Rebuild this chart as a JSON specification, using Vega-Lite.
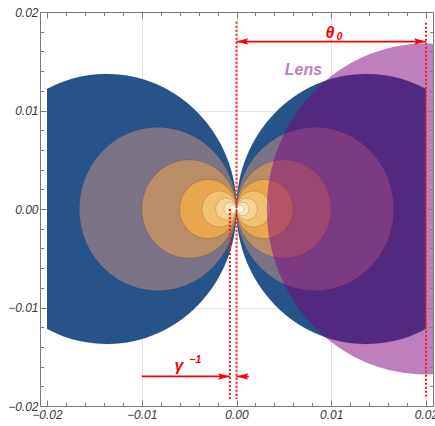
{
  "$schema": "https://vega.github.io/schema/vega-lite/v6.json",
  "width": 393,
  "height": 394,
  "autosize": {"type": "none"},
  "padding": {"left": 40, "top": 12, "right": 2, "bottom": 20},
  "background": "white",
  "config": {"view": {"stroke": null}},
  "datasets": {
    "cones": [
      {"side": "L", "level": 1, "x": -0.0137, "r": 0.0137},
      {"side": "R", "level": 1, "x": 0.0137, "r": 0.0137},
      {"side": "L", "level": 2, "x": -0.0083, "r": 0.0083},
      {"side": "R", "level": 2, "x": 0.0083, "r": 0.0083},
      {"side": "L", "level": 3, "x": -0.005, "r": 0.005},
      {"side": "R", "level": 3, "x": 0.005, "r": 0.005},
      {"side": "L", "level": 4, "x": -0.003, "r": 0.003},
      {"side": "R", "level": 4, "x": 0.003, "r": 0.003},
      {"side": "L", "level": 5, "x": -0.00182, "r": 0.00182},
      {"side": "R", "level": 5, "x": 0.00182, "r": 0.00182},
      {"side": "L", "level": 6, "x": -0.0011, "r": 0.0011},
      {"side": "R", "level": 6, "x": 0.0011, "r": 0.0011},
      {"side": "L", "level": 7, "x": -0.00066, "r": 0.00066},
      {"side": "R", "level": 7, "x": 0.00066, "r": 0.00066},
      {"side": "L", "level": 8, "x": -0.0004, "r": 0.0004},
      {"side": "R", "level": 8, "x": 0.0004, "r": 0.0004}
    ],
    "covers": [
      {"x": -0.0209, "x2": -0.02},
      {"x": 0.02, "x2": 0.0209}
    ],
    "lens": [{"x": 0.02, "y": 0, "r": 0.0168}],
    "dotted": [
      {"x": 0, "y": 0.019, "y2": -0.0193},
      {"x": 0.02, "y": 0.0189, "y2": -0.0193},
      {"x": -0.0007, "y": 0, "y2": -0.0193}
    ],
    "arrows": [
      {"x": 0, "x2": 0.02, "y": 0.017},
      {"x": -0.01, "x2": -0.0007, "y": -0.017},
      {"x": 0, "x2": 0.0013, "y": -0.017}
    ],
    "heads": [
      {"x": 0, "y": 0.017, "dir": "left"},
      {"x": 0.02, "y": 0.017, "dir": "right"},
      {"x": -0.0007, "y": -0.017, "dir": "right"},
      {"x": 0, "y": -0.017, "dir": "left"}
    ],
    "labels": [
      {"text": "θ", "x": 0.00987, "y": 0.0179, "kind": "red"},
      {"text": "γ", "x": -0.00607, "y": -0.0159, "kind": "red"},
      {"text": "Lens", "x": 0.00707, "y": 0.0141, "kind": "lens"}
    ],
    "scripts": [
      {"text": "0", "x": 0.01085, "y": 0.01745},
      {"text": "−1", "x": -0.00435, "y": -0.01535}
    ]
  },
  "layer": [
    {
      "data": {"name": "cones"},
      "mark": {"type": "point", "filled": true, "opacity": 1, "clip": true, "stroke": "#000000", "strokeOpacity": 0.14, "strokeWidth": 1},
      "encoding": {
        "x": {"field": "x", "type": "quantitative", "scale": {"domain": [-0.02074, 0.02074], "nice": false, "zero": false},
          "axis": {"orient": "bottom", "values": [-0.01, 0, 0.01], "grid": true, "gridColor": "#e4e4e4", "gridWidth": 1, "domain": false, "ticks": false, "labels": false, "title": null, "zindex": 0}},
        "y": {"datum": 0, "type": "quantitative", "scale": {"domain": [-0.02, 0.02], "nice": false, "zero": false},
          "axis": {"orient": "left", "values": [-0.01, 0, 0.01], "grid": true, "gridColor": "#e4e4e4", "gridWidth": 1, "domain": false, "ticks": false, "labels": false, "title": null, "zindex": 0}},
        "size": {"field": "r", "type": "quantitative", "scale": {"type": "pow", "exponent": 2, "domain": [0, 0.025], "range": [0, 224439]}, "legend": null},
        "shape": {"value": "M -1 0 A 1 1.0396 0 1 0 1 0 A 1 1.0396 0 1 0 -1 0 Z"},
        "fill": {"field": "level", "type": "ordinal", "scale": {"domain": [1, 2, 3, 4, 5, 6, 7, 8], "range": ["#26548a", "#7b7487", "#b98d66", "#e9a64e", "#f0c173", "#f5d493", "#f9e6b8", "#fcf3dc"]}, "legend": null},
        "order": {"field": "level", "type": "quantitative"}
      }
    },
    {
      "data": {"name": "covers"},
      "mark": {"type": "rect", "fill": "white"},
      "encoding": {
        "x": {"field": "x", "type": "quantitative", "scale": {"domain": [-0.02074, 0.02074], "nice": false, "zero": false}, "axis": null},
        "x2": {"field": "x2"},
        "y": {"datum": -0.0128, "type": "quantitative", "scale": {"domain": [-0.02, 0.02], "nice": false, "zero": false}, "axis": null},
        "y2": {"datum": 0.0128}
      }
    },
    {
      "data": {"name": "lens"},
      "mark": {"type": "point", "filled": true, "opacity": 0.5, "clip": true, "fill": "#7e007a", "strokeWidth": 0},
      "encoding": {
        "x": {"field": "x", "type": "quantitative", "scale": {"domain": [-0.02074, 0.02074], "nice": false, "zero": false}, "axis": null},
        "y": {"field": "y", "type": "quantitative", "scale": {"domain": [-0.02, 0.02], "nice": false, "zero": false}, "axis": null},
        "size": {"field": "r", "type": "quantitative", "scale": {"type": "pow", "exponent": 2, "domain": [0, 0.025], "range": [0, 224439]}, "legend": null},
        "shape": {"value": "M -1 0 A 1 1.0396 0 1 0 1 0 A 1 1.0396 0 1 0 -1 0 Z"}
      }
    },
    {
      "data": {"name": "dotted"},
      "mark": {"type": "rule", "color": "#ff1a1a", "strokeWidth": 2, "strokeDash": [2, 2]},
      "encoding": {
        "x": {"field": "x", "type": "quantitative", "scale": {"domain": [-0.02074, 0.02074], "nice": false, "zero": false}, "axis": null},
        "y": {"field": "y", "type": "quantitative", "scale": {"domain": [-0.02, 0.02], "nice": false, "zero": false}, "axis": null},
        "y2": {"field": "y2"}
      }
    },
    {
      "data": {"name": "arrows"},
      "mark": {"type": "rule", "color": "#ff0000", "strokeWidth": 1.8},
      "encoding": {
        "x": {"field": "x", "type": "quantitative", "scale": {"domain": [-0.02074, 0.02074], "nice": false, "zero": false}, "axis": null},
        "x2": {"field": "x2"},
        "y": {"field": "y", "type": "quantitative", "scale": {"domain": [-0.02, 0.02], "nice": false, "zero": false}, "axis": null}
      }
    },
    {
      "data": {"name": "heads"},
      "mark": {"type": "point", "filled": true, "opacity": 1, "size": 576, "fill": "#ff0000", "strokeWidth": 0},
      "encoding": {
        "x": {"field": "x", "type": "quantitative", "scale": {"domain": [-0.02074, 0.02074], "nice": false, "zero": false},
          "axis": {"orient": "top", "values": [-0.02, -0.018, -0.016, -0.014, -0.012, -0.01, -0.008, -0.006, -0.004, -0.002, 0, 0.002, 0.004, 0.006, 0.008, 0.01, 0.012, 0.014, 0.016, 0.018, 0.02],
            "grid": false, "labels": false, "domain": true, "domainColor": "#7a7a7a", "tickColor": "#7a7a7a", "title": null, "zindex": 1,
            "tickSize": {"condition": {"test": "abs(datum.value*100 - round(datum.value*100)) < 0.01", "value": -6}, "value": -3.5}}},
        "y": {"field": "y", "type": "quantitative", "scale": {"domain": [-0.02, 0.02], "nice": false, "zero": false},
          "axis": {"orient": "right", "values": [-0.02, -0.018, -0.016, -0.014, -0.012, -0.01, -0.008, -0.006, -0.004, -0.002, 0, 0.002, 0.004, 0.006, 0.008, 0.01, 0.012, 0.014, 0.016, 0.018, 0.02],
            "grid": false, "labels": false, "domain": true, "domainColor": "#7a7a7a", "tickColor": "#7a7a7a", "title": null, "zindex": 1,
            "tickSize": {"condition": {"test": "abs(datum.value*100 - round(datum.value*100)) < 0.01", "value": -6}, "value": -3.5}}},
        "shape": {"field": "dir", "type": "nominal", "scale": {"domain": ["right", "left"], "range": ["M 0 0 L -1 -0.27 L -0.8 0 L -1 0.27 Z", "M 0 0 L 1 -0.27 L 0.8 0 L 1 0.27 Z"]}, "legend": null}
      }
    },
    {
      "data": {"name": "scripts"},
      "mark": {"type": "text", "font": "Liberation Sans", "fontStyle": "italic", "fontWeight": "bold", "fontSize": 10.5, "align": "center", "baseline": "middle", "color": "#ff0000"},
      "encoding": {
        "x": {"field": "x", "type": "quantitative", "scale": {"domain": [-0.02074, 0.02074], "nice": false, "zero": false}, "axis": null},
        "y": {"field": "y", "type": "quantitative", "scale": {"domain": [-0.02, 0.02], "nice": false, "zero": false}, "axis": null},
        "text": {"field": "text", "type": "nominal"}
      }
    },
    {
      "data": {"name": "labels"},
      "mark": {"type": "text", "font": "Liberation Sans", "fontStyle": "italic", "fontWeight": "bold", "fontSize": 16, "align": "center", "baseline": "middle"},
      "encoding": {
        "x": {"field": "x", "type": "quantitative", "scale": {"domain": [-0.02074, 0.02074], "nice": false, "zero": false},
          "axis": {"orient": "bottom", "values": [-0.02, -0.018, -0.016, -0.014, -0.012, -0.01, -0.008, -0.006, -0.004, -0.002, 0, 0.002, 0.004, 0.006, 0.008, 0.01, 0.012, 0.014, 0.016, 0.018, 0.02],
            "grid": false, "domain": true, "domainColor": "#7a7a7a", "tickColor": "#7a7a7a", "title": null, "zindex": 1,
            "tickSize": {"condition": {"test": "abs(datum.value*100 - round(datum.value*100)) < 0.01", "value": -6}, "value": -3.5},
            "labelExpr": "abs(datum.value*100 - round(datum.value*100)) < 0.01 ? format(datum.value, '.2f') : ''",
            "labelFont": "Liberation Sans", "labelFontStyle": "italic", "labelFontSize": 12, "labelColor": "#3a3a3a", "labelPadding": 9, "labelFlush": false, "labelOverlap": false, "labelBound": false}},
        "y": {"field": "y", "type": "quantitative", "scale": {"domain": [-0.02, 0.02], "nice": false, "zero": false},
          "axis": {"orient": "left", "values": [-0.02, -0.018, -0.016, -0.014, -0.012, -0.01, -0.008, -0.006, -0.004, -0.002, 0, 0.002, 0.004, 0.006, 0.008, 0.01, 0.012, 0.014, 0.016, 0.018, 0.02],
            "grid": false, "domain": true, "domainColor": "#7a7a7a", "tickColor": "#7a7a7a", "title": null, "zindex": 1,
            "tickSize": {"condition": {"test": "abs(datum.value*100 - round(datum.value*100)) < 0.01", "value": -6}, "value": -3.5},
            "labelExpr": "abs(datum.value*100 - round(datum.value*100)) < 0.01 ? format(datum.value, '.2f') : ''",
            "labelFont": "Liberation Sans", "labelFontStyle": "italic", "labelFontSize": 12, "labelColor": "#3a3a3a", "labelPadding": 8, "labelFlush": false, "labelOverlap": false, "labelBound": false}},
        "text": {"field": "text", "type": "nominal"},
        "color": {"field": "kind", "type": "nominal", "scale": {"domain": ["red", "lens"], "range": ["#ff0000", "#bf80c0"]}, "legend": null}
      }
    }
  ],
  "resolve": {"axis": {"x": "independent", "y": "independent"}}
}
